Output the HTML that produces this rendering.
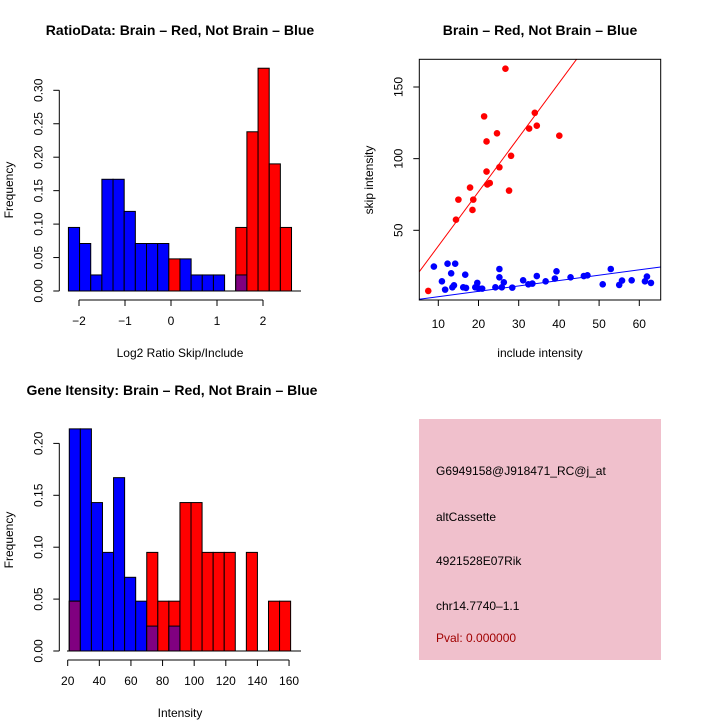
<!DOCTYPE html>
<html><head><meta charset="utf-8"><style>
body{margin:0;background:#fff}
svg{display:block;font-family:"Liberation Sans",sans-serif}
text{font-size:12px;fill:#000}
.t{font-size:14px;font-weight:bold}
</style></head><body>
<svg id="s" width="720" height="720" viewBox="0 0 720 720">
<text class="t" x="180" y="35" text-anchor="middle">RatioData: Brain – Red, Not Brain – Blue</text>
<text class="t" x="540" y="35" text-anchor="middle">Brain – Red, Not Brain – Blue</text>
<text class="t" x="172" y="395" text-anchor="middle">Gene Itensity: Brain – Red, Not Brain – Blue</text>
<g id="g1"></g>
<g id="g2"></g>
<g id="g3"></g>
<g>
<rect x="419" y="419" width="242" height="241" fill="#f0c0cc"/>
<text x="436" y="475">G6949158@J918471_RC@j_at</text>
<text x="436" y="521">altCassette</text>
<text x="436" y="565">4921528E07Rik</text>
<text x="436" y="610">chr14.7740–1.1</text>
<text x="436" y="642" style="fill:#a00000">Pval: 0.000000</text>
</g>
</svg>
<script>
const ratioBlue=[0.095,0.071,0.024,0.167,0.167,0.119,0.071,0.071,0.071,0,0.048,0.024,0.024,0.024,0,0.024,0,0,0,0];
const ratioRed=[0,0,0,0,0,0,0,0,0,0.048,0,0,0,0,0,0.095,0.238,0.333,0.190,0.095];
const ratioStart=-2.23, ratioWidth=0.2425;
const ratioYTicks=[0,0.05,0.10,0.15,0.20,0.25,0.30];
const ratioXTicks=[-2,-1,0,1,2];
const intBlue=[0.214,0.214,0.143,0.095,0.167,0.071,0.048,0.024,0,0.024,0,0,0,0,0,0,0,0,0,0];
const intRed=[0.048,0,0,0,0,0,0,0.095,0.048,0.048,0.143,0.143,0.095,0.095,0.095,0,0.095,0,0.048,0.048];
const intStart=21, intWidth=7;
const intYTicks=[0,0.05,0.10,0.15,0.20];
const intXTicks=[20,40,60,80,100,120,140,160];
const redX=[7.5,14.4,15,17.9,18.7,18.5,21.4,22,22,22.2,22.8,24.6,25.2,26.7,27.6,28.1,32.6,34,34.5,40.1];
const redY=[7.7,57.4,71.4,79.8,71.4,64.2,129.5,112,91,82,83,117.7,94,162.8,77.7,102,121,132,123,116];
const blueX=[8.9,10.9,11.7,12.3,13.2,13.5,13.9,14.2,16.2,16.7,16.9,19.2,19.7,20.1,20.9,24.2,25.2,25.2,25.8,26.3,28.4,31.1,32.4,33.4,34.5,36.7,39,39.4,42.9,46.2,47.1,50.9,52.9,55,55.7,58.1,61.4,61.9,62.9];
const blueY=[24.7,14.4,8.6,26.7,20,10.2,11.6,26.7,10.2,19,9.8,10.2,13.3,9.3,9.3,10.2,23,17.2,10.2,13.7,10,15.1,12.3,12.8,18.1,14.4,16.3,21.4,17.2,18.1,18.6,12.3,23,11.9,14.9,15.1,14.4,17.7,13.3];
const redFit=[1.1,3.79], blueFit=[-0.1,0.375];
const scXTicks=[10,20,30,40,50,60], scYTicks=[50,100,150];

const NS="http://www.w3.org/2000/svg";
function mk(p,tag,a,txt){const e=document.createElementNS(NS,tag);for(const k in a)e.setAttribute(k,a[k]);if(txt!==undefined)e.textContent=txt;p.appendChild(e);return e;}

function hist(g,blue,red,start,w,xs,ys,yT,xT,xTickY,yAxisX,yLab,xLab,xLabY,freqY){
  for(let i=0;i<blue.length;i++){
    const x0=xs(start+i*w),x1=xs(start+(i+1)*w);
    const b=blue[i],r=red[i];
    if(b>0){const e=mk(g,'rect',{x:x0,y:ys(b),width:x1-x0,height:ys(0)-ys(b),fill:'#0000ff',stroke:'#000','stroke-width':1});
      }
    if(r>0){const e=mk(g,'rect',{x:x0,y:ys(r),width:x1-x0,height:ys(0)-ys(r),fill:'#ff0000',stroke:'#000','stroke-width':1});
      }
    const m=Math.min(b,r);
    if(m>0){const e=mk(g,'rect',{x:x0,y:ys(m),width:x1-x0,height:ys(0)-ys(m),fill:'#800080',stroke:'#000','stroke-width':1});
      }
  }
  const ya=mk(g,'line',{x1:yAxisX,x2:yAxisX,y1:ys(yT[0]),y2:ys(yT[yT.length-1]),stroke:'#000'});
  
  yT.forEach(v=>{mk(g,'line',{x1:yAxisX-6,x2:yAxisX,y1:ys(v),y2:ys(v),stroke:'#000'});
    const t=mk(g,'text',{x:0,y:0,transform:`translate(${yAxisX-17},${ys(v)}) rotate(-90)`,'text-anchor':'middle'},v.toFixed(2));
    });
  const xa=mk(g,'line',{x1:xs(xT[0]),x2:xs(xT[xT.length-1]),y1:xTickY,y2:xTickY,stroke:'#000'});
  
  xT.forEach(v=>{mk(g,'line',{x1:xs(v),x2:xs(v),y1:xTickY,y2:xTickY+6,stroke:'#000'});
    const t=mk(g,'text',{x:xs(v),y:xTickY+25,'text-anchor':'middle'},v<0?'−'+(-v):String(v));
    });
  const xl=mk(g,'text',{x:xLab[1],y:xLabY,'text-anchor':'middle'},xLab[0]);
  
  const yl=mk(g,'text',{x:0,y:0,transform:`translate(13,${freqY}) rotate(-90)`,'text-anchor':'middle'},yLab);
  
}
const g1=document.getElementById('g1');
hist(g1,ratioBlue,ratioRed,ratioStart,ratioWidth,v=>171+46*v,v=>291-669*v,ratioYTicks,ratioXTicks,300,59.3,'Frequency',['Log2 Ratio Skip/Include',180],357,190);
mk(g1,'line',{x1:68,x2:301,y1:291,y2:291,stroke:'#000'});
const g3=document.getElementById('g3');
hist(g3,intBlue,intRed,intStart,intWidth,v=>67.7+1.581*(v-20),v=>651-1038*v,intYTicks,intXTicks,660,59.3,'Frequency',['Intensity',180],717,540);
mk(g3,'line',{x1:67,x2:301,y1:651,y2:651,stroke:'#000'});

const g2=document.getElementById('g2');
const sx=v=>438.3+4.02*(v-10), sy=v=>230.3-1.433*(v-50);
const L=419.3,R=660.7,T=59.3,B=300;
mk(g2,'clipPath',{id:'cp'}).appendChild(document.createElementNS(NS,'rect'));
const cr=document.querySelector('#cp rect');cr.setAttribute('x',L);cr.setAttribute('y',T);cr.setAttribute('width',R-L);cr.setAttribute('height',B-T);
const x0=(L-438.3)/4.02+10,x1=(R-438.3)/4.02+10;
[[redFit,'#ff0000','red-fit-line'],[blueFit,'#0000ff','blue-fit-line']].forEach(([f,c,n])=>{
  const e=mk(g2,'line',{x1:sx(x0),y1:sy(f[0]+f[1]*x0),x2:sx(x1),y2:sy(f[0]+f[1]*x1),stroke:c,'clip-path':'url(#cp)'});
  });
redX.forEach((v,i)=>{const e=mk(g2,'circle',{cx:sx(v),cy:sy(redY[i]),r:3.3,fill:'#ff0000'});
  });
blueX.forEach((v,i)=>{const e=mk(g2,'circle',{cx:sx(v),cy:sy(blueY[i]),r:3.3,fill:'#0000ff'});
  });
const fr=mk(g2,'rect',{x:L,y:T,width:R-L,height:B-T,fill:'none',stroke:'#000'});

scXTicks.forEach(v=>{mk(g2,'line',{x1:sx(v),x2:sx(v),y1:B,y2:B+6,stroke:'#000'});
  const t=mk(g2,'text',{x:sx(v),y:B+28,'text-anchor':'middle'},String(v));
  });
scYTicks.forEach(v=>{mk(g2,'line',{x1:L-6,x2:L,y1:sy(v),y2:sy(v),stroke:'#000'});
  const t=mk(g2,'text',{x:0,y:0,transform:`translate(${L-17},${sy(v)}) rotate(-90)`,'text-anchor':'middle'},String(v));
  });
const sxl=mk(g2,'text',{x:540,y:357,'text-anchor':'middle'},'include intensity');

const syl=mk(g2,'text',{x:0,y:0,transform:'translate(373,180) rotate(-90)','text-anchor':'middle'},'skip intensity');

</script>
</body></html>
